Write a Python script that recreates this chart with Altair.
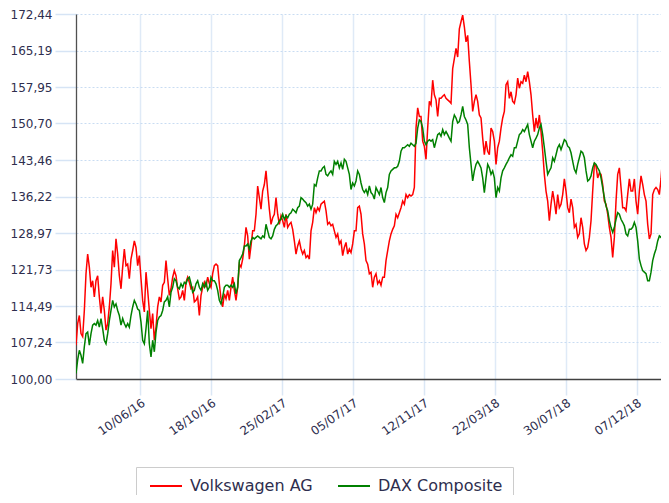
import altair as alt
import pandas as pd

series_names = ["Volkswagen AG", "DAX Composite"]
series_colors = ["#ff0000", "#008000"]

# sampling: regular steps from the first date (one reading every ~3 days)
start_date = "2016-02-13 03:00"
step = "4400min"

vw = [
    106.7, 111.0, 112.6, 109.0, 108.4, 113.6, 120.9, 124.8, 122.2, 118.2,
    119.5, 116.3, 119.5, 120.5, 116.3, 113.0, 116.3, 113.6, 109.7, 111.0,
    114.3, 118.9, 125.5, 122.2, 127.8, 124.8, 120.5, 117.9, 122.2, 125.8,
    122.5, 122.8, 119.9, 123.8, 125.5, 127.4, 126.1, 122.5, 124.5, 119.9,
    115.6, 113.3, 121.2, 117.6, 113.6, 110.0, 113.0, 107.7, 110.3, 114.3,
    116.3, 115.3, 118.6, 119.2, 123.5, 119.9, 116.6, 117.9, 120.2, 121.5,
    120.5, 117.9, 115.9, 116.3, 117.6, 115.6, 119.2, 120.2, 119.2, 117.9,
    118.2, 115.3, 115.6, 116.3,
    112.6, 116.6, 118.2, 119.2, 118.2, 120.2, 118.9, 118.2, 120.9, 122.5,
    122.8, 122.5, 118.9, 115.9, 114.3, 116.9, 115.9, 117.6, 115.6, 118.2,
    120.2, 117.6, 115.6, 118.2, 122.8, 122.2, 123.8, 126.4, 130.1, 128.4,
    123.8, 126.4, 129.4, 129.4, 132.7, 138.3, 136.0, 133.7, 137.3, 138.6,
    141.3, 137.3, 133.7, 130.7, 132.0, 132.7, 136.0, 132.7, 130.7, 132.4,
    131.4, 130.1, 132.7, 130.1, 130.7, 131.1, 129.7, 127.4, 124.8, 126.4,
    127.4, 125.8, 124.8, 125.5, 124.1, 124.5, 123.8, 129.4, 131.1, 134.0,
    133.0, 134.0, 133.4,
    134.7, 135.0, 135.3, 133.4, 130.7, 131.1, 130.4, 130.7, 129.4, 128.1,
    128.8, 126.8, 127.4, 124.5, 126.1, 127.1, 124.8, 125.8, 125.1, 126.8,
    129.4, 129.4, 134.0, 134.3, 132.7, 128.8, 126.8, 123.5, 122.8, 120.9,
    121.2, 118.2, 120.2, 120.9, 118.9, 119.5, 118.6, 120.2, 120.2, 123.5,
    125.5, 127.4, 128.8, 129.7, 130.4, 132.7, 132.0, 133.0, 134.0, 135.3,
    134.7, 136.6, 136.0, 136.6, 136.3, 136.6, 138.0, 149.8, 153.8, 152.1,
    152.1, 147.2, 146.2, 143.6, 149.8, 155.1, 154.4, 159.3, 156.4, 155.4,
    152.1, 155.7,
    155.7, 156.1, 156.4, 155.7, 155.4, 155.1, 154.7, 161.6, 163.6, 165.6,
    163.9, 169.5, 170.9, 172.2, 169.9, 166.9, 168.2, 163.0, 158.4, 153.1,
    155.1, 156.4, 155.1, 152.4, 151.8, 147.8, 144.5, 147.2, 145.2, 144.5,
    149.8, 149.1, 147.2, 142.6, 145.9, 147.2, 149.8, 151.8, 153.1, 158.4,
    159.0, 155.7, 157.0, 155.1, 154.7, 156.4, 159.7, 157.7, 159.0, 158.7,
    160.3, 159.0, 161.0, 159.0, 156.4, 152.4, 149.1, 151.8, 149.8, 152.4,
    149.1, 145.2, 140.6, 137.3, 135.3, 131.4, 134.7, 137.3, 135.3, 132.7,
    136.6, 134.0,
    134.7, 136.6, 139.7, 137.3, 134.0, 133.0, 135.7, 134.0, 130.1, 130.7,
    128.1, 128.8, 132.0, 130.1, 126.8, 125.5, 126.1, 128.1, 131.4, 137.3,
    142.6, 142.2, 139.9, 140.9, 140.6, 138.6, 135.3, 134.7, 132.7, 130.1,
    128.1, 124.1, 128.1, 135.3, 140.6, 141.9, 138.0, 134.0, 134.0, 133.4,
    136.6, 139.7, 137.3, 137.3, 139.7, 135.3, 132.7, 137.3, 140.3, 138.6,
    136.6, 135.3, 130.7, 127.8, 128.8, 136.6, 137.6, 138.0, 137.6, 136.6,
    139.7, 144.2, 143.2, 141.6, 142.6,
]

dax = [
    101.1, 103.8, 105.7, 104.7, 103.1, 106.4, 109.0, 109.3, 106.7, 109.0,
    110.7, 111.0, 110.7, 111.6, 110.3, 112.0, 110.0, 107.7, 107.0, 109.0,
    111.6, 113.6, 115.6, 114.3, 114.9, 113.6, 112.6, 110.7, 112.0, 111.0,
    110.3, 111.0, 110.3, 112.6, 114.3, 115.6, 114.9, 113.9, 113.6, 111.3,
    107.7, 107.0, 110.0, 113.6, 107.0, 104.4, 107.7, 105.4, 109.3, 111.6,
    112.3, 112.6, 113.6, 115.3, 115.6, 116.3, 114.3, 117.2, 118.2, 119.9,
    119.5, 118.2, 117.9, 118.9, 118.2, 119.2, 118.9, 119.9, 120.2, 118.9,
    117.2, 117.6, 118.9, 119.5,
    118.2, 117.6, 118.9, 118.2, 119.2, 117.6, 118.2, 120.2, 119.5, 119.5,
    118.9, 117.6, 115.6, 114.9, 116.3, 118.2, 118.6, 118.6, 118.2, 118.6,
    118.2, 118.9, 116.9, 118.2, 123.5, 124.1, 124.8, 126.4, 126.4, 126.8,
    125.8, 127.4, 128.1, 127.8, 128.1, 128.4, 128.1, 127.8, 128.4, 128.1,
    130.7, 129.4, 128.1, 127.8, 128.4, 129.7, 130.4, 130.7, 131.4, 131.7,
    132.7, 131.7, 132.4, 132.0, 132.7, 133.0, 133.7, 133.4, 133.0, 134.0,
    134.3, 136.0, 135.7, 135.3, 135.0, 134.3, 134.7, 133.7, 134.7, 138.6,
    138.3, 139.9, 141.3,
    141.3, 141.9, 142.2, 140.6, 140.3, 140.9, 141.3, 140.6, 143.2, 142.6,
    143.2, 141.9, 142.9, 141.6, 143.6, 143.2, 141.9, 140.6, 137.6, 138.9,
    138.3, 139.3, 141.3, 140.6, 138.9, 137.6, 137.0, 137.6, 136.6, 138.3,
    137.0, 136.6, 135.7, 138.0, 137.3, 136.6, 138.0, 136.0, 135.0, 137.0,
    138.0, 140.6, 141.3, 141.6, 141.9, 141.9, 142.2, 143.2, 145.2, 145.9,
    145.9, 146.2, 146.5, 146.2, 146.8, 146.5, 146.2, 146.8, 149.8, 151.4,
    151.1, 149.8, 147.2, 146.5, 147.2, 147.5, 147.2, 147.5, 145.9, 147.2,
    148.5, 148.8,
    148.2, 149.5, 148.5, 149.1, 148.5, 147.8, 147.2, 151.1, 152.4, 151.8,
    150.8, 151.1, 152.4, 154.1, 152.1, 151.4, 150.5, 145.9, 142.6, 139.3,
    141.3, 142.6, 143.2, 142.6, 141.9, 139.9, 137.0, 139.9, 142.6, 141.9,
    140.6, 141.3, 139.9, 136.0, 138.0, 137.3, 139.9, 141.3, 141.9, 142.6,
    143.2, 143.9, 144.5, 144.2, 145.9, 145.9, 147.2, 148.5, 148.8, 149.5,
    149.1, 149.8, 150.5, 148.5, 147.2, 145.9, 147.2, 147.8, 148.5, 149.8,
    150.5, 148.5, 145.9, 143.2, 140.6, 141.3, 141.9, 143.9, 143.2, 144.5,
    145.9, 146.5,
    145.5, 146.5, 147.5, 147.2, 146.2, 145.9, 144.9, 143.2, 141.6, 140.9,
    142.6, 143.9, 145.2, 144.9, 143.9, 141.3, 139.3, 139.6, 140.3, 141.9,
    142.9, 142.6, 141.9, 141.3, 139.9, 138.0, 136.0, 134.3, 133.4, 131.4,
    130.1, 129.1, 130.1, 131.7, 133.0, 132.7, 131.7, 131.1, 130.4, 128.8,
    128.4, 129.7, 129.7, 130.1, 131.1, 130.1, 127.4, 123.8, 122.5, 121.5,
    121.2, 120.9, 119.5, 119.5, 121.2, 123.5, 124.8, 125.8, 127.4, 128.4,
    128.1, 128.8, 129.7, 129.7, 130.7,
]

x_tick_dates = ["2016-06-10", "2016-10-18", "2017-02-25", "2017-07-05",
                "2017-11-12", "2018-03-22", "2018-07-30", "2018-12-07"]
x_domain_dates = ["2016-02-13 03:00", "2019-01-20 14:00"]
y_ticks = [100.0, 107.24352, 114.48704, 121.73056, 128.97408, 136.2176,
           143.46112, 150.70464, 157.94816, 165.19168, 172.4352]


def to_ms(d):
    return int(pd.Timestamp(d).value // 10**6)


n = len(vw)
dates = pd.date_range(start_date, periods=n, freq=step)
ms = [int(v // 10**6) for v in dates.asi8]

df = pd.DataFrame({
    "t": ms + ms,
    "v": vw + dax,
    "s": [series_names[0]] * n + [series_names[1]] * len(dax),
})

label_color = "#2e2e4e"
font = "DejaVu Sans"

chart = alt.Chart(df).mark_line(strokeWidth=1.5, clip=True).encode(
    x=alt.X(
        "t:T",
        scale=alt.Scale(type="utc", domain=[to_ms(d) for d in x_domain_dates], nice=False),
        axis=alt.Axis(
            values=[to_ms(d) for d in x_tick_dates],
            labelExpr="utcFormat(datum.value, '%d/%m/%y')",
            title=None,
            labelAngle=-35,
            labelAlign="right",
            labelBaseline="top",
            labelPadding=2,
            labelOverlap=False,
            tickSize=16,
            tickColor="#dbe7f5",
            tickWidth=1.5,
            grid=True,
            gridColor="#dfeaf7",
            gridWidth=1.5,
            domainColor="#404040",
            domainWidth=1.6,
        ),
    ),
    y=alt.Y(
        "v:Q",
        scale=alt.Scale(domain=[100, 172.4352], nice=False, zero=False),
        axis=alt.Axis(
            values=y_ticks,
            labelExpr="replace(format(datum.value, '.2f'), '.', ',')",
            title=None,
            labelPadding=3,
            labelOverlap=False,
            tickSize=21,
            tickColor="#d6e4f5",
            tickWidth=1.5,
            grid=True,
            gridColor="#c9dcf2",
            gridDash=[2, 2],
            gridWidth=1,
            domainColor="#505050",
            domainWidth=1.3,
        ),
    ),
    color=alt.Color(
        "s:N",
        scale=alt.Scale(domain=series_names, range=series_colors),
        legend=alt.Legend(
            title=None,
            orient="none",
            legendX=60,
            legendY=453,
            direction="horizontal",
            symbolType="M-2,0H2",
            symbolSize=256,
            symbolStrokeWidth=2,
            symbolOffset=11,
            labelOffset=15,
            columnPadding=21,
            padding=10,
            labelFont=font,
            labelFontSize=16,
            labelColor=label_color,
            strokeColor="#cccccc",
            fillColor="#ffffff",
        ),
    ),
).properties(
    width=585,
    height=365,
    autosize="none",
    padding={"left": 68, "top": 6, "right": 0, "bottom": 116},
).configure_view(
    stroke=None
).configure_axis(
    labelFont=font,
    labelFontSize=12,
    labelColor=label_color,
)

chart.save("out.html", embed_options={"renderer": "svg", "actions": False})
